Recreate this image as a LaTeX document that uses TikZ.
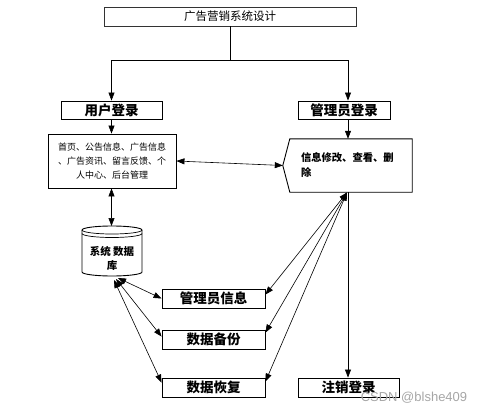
\documentclass[tikz,border=0pt]{standalone}
\usepackage{fontspec}
\newfontfamily\cjk{Noto Sans CJK SC}
\newfontfamily\wmfont{Liberation Sans}
\usetikzlibrary{arrows.meta,calc}
\begin{document}
\begin{tikzpicture}[x=1pt,y=-1pt,
  box/.style={draw, line width=0.9pt, inner sep=1pt, fill=white},
  lbl/.style={font=\cjk\bfseries\fontsize{13.5}{15}\selectfont},
  conn/.style={line width=0.6pt},
  arr/.style={conn, -{Triangle[length=8pt,width=6pt]}},
  darr/.style={conn, {Triangle[length=8pt,width=6pt]}-{Triangle[length=8pt,width=6pt]}}]
\useasboundingbox (0,0) rectangle (484,412);
% nodes
\node[box, minimum width=252pt, minimum height=19pt, font=\cjk\fontsize{11.5}{13}\selectfont, draw=black!80] (top) at (230,16.5) {广告营销系统设计};
\node[box, lbl, minimum width=101pt, minimum height=18pt] (ulog) at (111.5,110) {用户登录};
\node[box, lbl, minimum width=92pt, minimum height=18pt] (alog) at (344,110) {管理员登录};
\node[box, minimum width=128pt, minimum height=54pt, align=center, font=\cjk\fontsize{9}{14}\selectfont] (ubox) at (112,161) {首页、公告信息、广告信息\\、广告资讯、留言反馈、个\\人中心、后台管理};
\node[minimum width=122pt, minimum height=53pt, text width=100pt, align=left, font=\cjk\bfseries\fontsize{10.3}{15}\selectfont] (adm) at (351,165.5) {信息修改、查看、删\\除};
\draw[line width=0.9pt] (adm.north west) -- (adm.north east) -- (adm.south east) -- (adm.south west) -- ($(adm.west)+(-7,0)$) coordinate (admtip) -- cycle;
% database cylinder
\draw[line width=0.9pt, fill=white] (82,230) -- (82,272) arc[start angle=180,end angle=360,x radius=30pt,y radius=4pt] -- (142,230) arc[start angle=0,end angle=180,x radius=30pt,y radius=4pt] -- cycle;
\draw[line width=0.7pt] (82,230) arc[start angle=180,end angle=360,x radius=30pt,y radius=4pt];
\draw[line width=0.7pt] (82,233.5) arc[start angle=180,end angle=360,x radius=30pt,y radius=4pt];
\node[align=center, font=\cjk\bfseries\fontsize{10.5}{14}\selectfont] (db) at (112,258) {系统 数据\\库};
\coordinate (dbtop) at (111.5,226);
\coordinate (dbA) at (118,278);
\coordinate (dbB) at (116,279);
\coordinate (dbC) at (114,280);
\node[box, lbl, minimum width=103pt, minimum height=19pt] (mgr) at (213.5,298.5) {管理员信息};
\node[box, lbl, minimum width=103pt, minimum height=19pt] (bak) at (213.5,339.5) {数据备份};
\node[box, lbl, minimum width=103pt, minimum height=19pt] (rec) at (213.5,387.5) {数据恢复};
\node[box, lbl, minimum width=101pt, minimum height=19pt] (logout) at (348.5,387.5) {注销登录};
% connectors
\coordinate (split) at (230,60);
\coordinate (ax) at (348,0);
\draw[conn] (top.south) -- (split);
\draw[arr] (split) -| (ulog.north);
\draw[arr] (split) -| (ax |- alog.north);
\draw[arr] (ulog.south) -- (ulog.south |- ubox.north);
\draw[arr] (ax |- alog.south) -- (ax |- adm.north);
\draw[darr] (ubox.east) -- (admtip);
\draw[darr] (ulog.south |- ubox.south) -- (dbtop);
\draw[darr] (dbA) -- (mgr.west);
\draw[darr] (dbB) -- ($(bak.north west)+(0,7)$);
\draw[darr] (dbC) -- ($(rec.north west)+(0,5)$);
\coordinate (adm0) at (347,192.5);
\draw[darr] (adm0) -- ($(mgr.north east)+(0,6)$);
\draw[darr] (adm0) -- ($(bak.north east)+(0,3)$);
\draw[darr] (adm0) -- ($(rec.north east)+(0,4)$);
\draw[arr] (ax |- adm.south) -- (ax |- logout.north);
% watermark
\node[text=black!35, font=\wmfont\fontsize{13}{13}\selectfont] (wm) at (414,398) {CSDN @blshe409};
\end{tikzpicture}
\end{document}
